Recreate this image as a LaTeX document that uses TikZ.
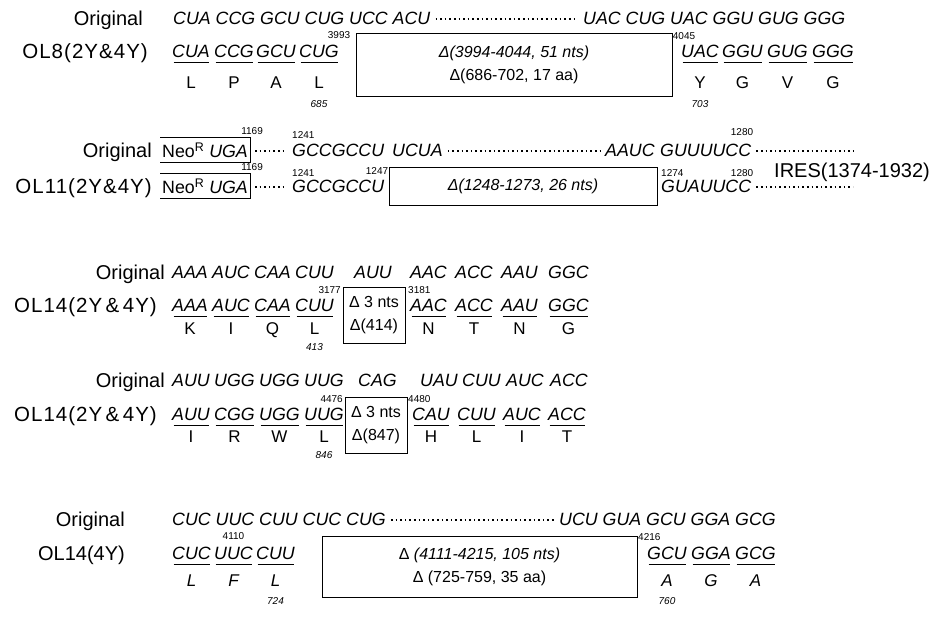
\documentclass[tikz,border=0pt]{standalone}
\usepackage{fontspec}
\setmainfont{Liberation Sans}
\newcommand{\ucodon}[6]{%
  \node[cod] (#1) at (#2,#3) {#4};
  \draw[uline] ([xshift=1.5pt,yshift=-4.5pt]#1.south west) -- ([xshift=-1pt,yshift=-4.5pt]#1.south east);
  \node[aa] (#1aa) at (#1.center |- 0,#6) {#5};}
\begin{document}
\begin{tikzpicture}[x=1pt,y=-1pt,
  lab/.style={anchor=east,inner sep=0pt,text height=14.5pt,text depth=0pt,font=\fontsize{20}{24}\selectfont},
  olab/.style={lab,font=\fontsize{20.5}{24}\selectfont\addfontfeature{LetterSpace=5}},
  cod/.style={anchor=west,inner sep=0pt,text height=12.7pt,text depth=0pt,font=\fontsize{17.8}{21}\selectfont\itshape},
  aa/.style={inner sep=0pt,text height=12.2pt,text depth=0pt,font=\fontsize{17}{20}\selectfont},
  num/.style={inner sep=0pt,font=\fontsize{10}{12}\selectfont},
  inum/.style={inner sep=0pt,font=\fontsize{10}{12}\selectfont\itshape},
  dbox/.style={draw,line width=1pt,inner sep=0pt,align=center,font=\fontsize{16}{23}\selectfont},
  neo/.style={anchor=west,inner xsep=2pt,inner ysep=0pt,minimum height=24pt,font=\fontsize{17.8}{21}\selectfont},
  dots/.style={line width=1.6pt,dash pattern=on 1.6pt off 3pt,shorten <=5pt,shorten >=5pt},
  uline/.style={line width=1.1pt}]
\useasboundingbox (0,0) rectangle (940,632);

% ---------- Row 1
\node[lab] (o1) at (143,18) {Original};
\node[cod] (r1a) at (173,18) {CUA CCG GCU CUG UCC ACU};
\node[cod] (r1b) at (583,18) {UAC CUG UAC GGU GUG GGG};
\draw[dots] ([yshift=-1pt]r1a.east) -- ([yshift=-1pt]r1b.west);

% ---------- Row 2
\node[olab] (o2) at (148,51) {OL8(2Y\&4Y)};
\ucodon{c2a}{172}{51}{CUA}{L}{82}
\ucodon{c2b}{214}{51}{CCG}{P}{82}
\ucodon{c2c}{256}{51}{GCU}{A}{82}
\ucodon{c2d}{299}{51}{CUG}{L}{82}
\node[num] (n3993) at (339,35) {3993};
\node[dbox,minimum width=316pt,minimum height=63pt] (b2) at (514,65)
  {\textit{Δ(3994-4044, 51 nts)}\\Δ(686-702, 17 aa)};
\node[num] (n4045) at (684,36) {4045};
\ucodon{c2e}{681}{51}{UAC}{Y}{82}
\ucodon{c2f}{722}{51}{GGU}{G}{82}
\ucodon{c2g}{767}{51}{GUG}{V}{82}
\ucodon{c2h}{812}{51}{GGG}{G}{82}
\node[inum] (n685) at (c2d.center |- 0,104) {685};
\node[inum] (n703) at (c2e.center |- 0,104) {703};

% ---------- Row 3
\node[lab] (o3) at (152,150) {Original};
\node[neo] (neo3) at (160,150) {Neo\textsuperscript{R} \textit{UGA}};
\draw[line width=1pt] (neo3.north west) -- (neo3.north east) -- (neo3.south east) -- (neo3.south west);
\node[num,anchor=south] (n1169a) at ([xshift=2pt,yshift=3pt]neo3.north east) {1169};
\node[cod] (g3) at (292,150) {GCCGCCU};
\node[num,anchor=south west] (n1241a) at ([yshift=5pt]g3.north west) {1241};
\node[cod] (u3) at (392,150) {UCUA};
\node[cod] (a3) at (605,150) {AAUC};
\node[cod] (gu3) at (660,150) {GUUUUCC};
\node[num,anchor=south east] (n1280a) at ([xshift=2pt,yshift=8pt]gu3.north east) {1280};
\coordinate (e3) at (858,151);
\draw[dots] ([yshift=-1pt]neo3.east) -- ([yshift=-1pt]g3.west);
\draw[dots] ([yshift=-1pt]u3.east) -- ([yshift=-1pt]a3.west);
\draw[dots] ([yshift=-1pt]gu3.east) -- (e3);

% ---------- Row 4
\node[olab] (o4) at (152,186) {OL11(2Y\&4Y)};
\node[neo] (neo4) at (160,186) {Neo\textsuperscript{R} \textit{UGA}};
\draw[line width=1pt] (neo4.north west) -- (neo4.north east) -- (neo4.south east) -- (neo4.south west);
\node[num,anchor=south] (n1169b) at ([xshift=2pt,yshift=3pt]neo4.north east) {1169};
\node[cod] (g4) at (292,186) {GCCGCCU};
\node[num,anchor=south west] (n1241b) at ([yshift=3pt]g4.north west) {1241};
\node[num,anchor=south east] (n1247) at ([xshift=4pt,yshift=5pt]g4.north east) {1247};
\node[dbox,minimum width=268pt,minimum height=38pt,font=\fontsize{16}{20}\selectfont\itshape] (b4) at (523,186) {Δ(1248-1273, 26 nts)};
\node[cod] (gu4) at (661,186) {GUAUUCC};
\node[num,anchor=south west] (n1274) at ([yshift=3pt]gu4.north west) {1274};
\node[num,anchor=south east] (n1280b) at ([xshift=2pt,yshift=3pt]gu4.north east) {1280};
\coordinate (e4) at (858,187);
\draw[dots] ([yshift=-1pt]neo4.east) -- ([yshift=-1pt]g4.west);
\draw[dots] ([yshift=-1pt]gu4.east) -- (e4);
\node[lab,anchor=west] (ires) at (774,170) {IRES(1374-1932)};

% ---------- Row 5
\node[lab] (o5) at (165,272) {Original};
\node[cod] (r5a) at (172,272) {AAA};
\node[cod] (r5b) at (212,272) {AUC};
\node[cod] (r5c) at (254,272) {CAA};
\node[cod] (r5d) at (295,272) {CUU};
\node[cod] (r5e) at (354,272) {AUU};
\node[cod] (r5f) at (410,272) {AAC};
\node[cod] (r5g) at (455,272) {ACC};
\node[cod] (r5h) at (501,272) {AAU};
\node[cod] (r5i) at (548,272) {GGC};

% ---------- Row 6
\node[olab] (o6) at (157,305) {OL14(2Y\,\&\,4Y)};
\ucodon{c6a}{172}{305}{AAA}{K}{328}
\ucodon{c6b}{212}{305}{AUC}{I}{328}
\ucodon{c6c}{254}{305}{CAA}{Q}{328}
\ucodon{c6d}{295}{305}{CUU}{L}{328}
\node[num,anchor=south east] (n3177) at (341,294) {3177};
\node[dbox,minimum width=62pt,minimum height=56pt] (b6) at (374,315) {Δ 3 nts\\Δ(414)};
\node[num,anchor=south west] (n3181) at (408,294) {3181};
\ucodon{c6e}{410}{305}{AAC}{N}{328}
\ucodon{c6f}{455}{305}{ACC}{T}{328}
\ucodon{c6g}{501}{305}{AAU}{N}{328}
\ucodon{c6h}{548}{305}{GGC}{G}{328}
\node[inum] (n413) at (c6d.center |- 0,347) {413};

% ---------- Row 7
\node[lab] (o7) at (165,380) {Original};
\node[cod] (r7a) at (172,380) {AUU};
\node[cod] (r7b) at (214,380) {UGG};
\node[cod] (r7c) at (259,380) {UGG};
\node[cod] (r7d) at (304,380) {UUG};
\node[cod] (r7e) at (358,380) {CAG};
\node[cod] (r7f) at (420,380) {UAU};
\node[cod] (r7g) at (462,380) {CUU};
\node[cod] (r7h) at (506,380) {AUC};
\node[cod] (r7i) at (550,380) {ACC};

% ---------- Row 8
\node[olab] (o8) at (157,414) {OL14(2Y\,\&\,4Y)};
\ucodon{c8a}{172}{414}{AUU}{I}{436}
\ucodon{c8b}{214}{414}{CGG}{R}{436}
\ucodon{c8c}{259}{414}{UGG}{W}{436}
\ucodon{c8d}{304}{414}{UUG}{L}{436}
\node[num,anchor=south east] (n4476) at (343,403) {4476};
\node[dbox,minimum width=62pt,minimum height=56pt] (b8) at (376,425) {Δ 3 nts\\Δ(847)};
\node[num,anchor=south west] (n4480) at (408,403) {4480};
\ucodon{c8e}{412}{414}{CAU}{H}{436}
\ucodon{c8f}{457}{414}{CUU}{L}{436}
\ucodon{c8g}{503}{414}{AUC}{I}{436}
\ucodon{c8h}{548}{414}{ACC}{T}{436}
\node[inum] (n846) at (c8d.center |- 0,455) {846};

% ---------- Row 9
\node[lab] (o9) at (125,519) {Original};
\node[cod] (r9a) at (172,519) {CUC UUC CUU CUC CUG};
\node[cod] (r9b) at (559,519) {UCU GUA GCU GGA GCG};
\draw[dots] ([yshift=-1pt]r9a.east) -- ([yshift=-1pt]r9b.west);

% ---------- Row 10
\node[lab] (o10) at (125,553) {OL14(4Y)};
\ucodon{c10a}{172}{553}{CUC}{\itshape L}{580}
\ucodon{c10b}{214}{553}{UUC}{\itshape F}{580}
\ucodon{c10c}{256}{553}{CUU}{\itshape L}{580}
\node[num] (n4110) at (c10b.center |- 0,536) {4110};
\node[dbox,minimum width=315pt,minimum height=61pt] (b10) at (479.5,567)
  {Δ \textit{(4111-4215, 105 nts)}\\Δ (725-759, 35 aa)};
\node[num,anchor=south west] (n4216) at (638,541) {4216};
\ucodon{c10d}{647}{553}{GCU}{\itshape A}{580}
\ucodon{c10e}{691}{553}{GGA}{\itshape G}{580}
\ucodon{c10f}{735}{553}{GCG}{\itshape A}{580}
\node[inum] (n724) at (c10c.center |- 0,601) {724};
\node[inum] (n760) at (c10d.center |- 0,601) {760};
\end{tikzpicture}
\end{document}
